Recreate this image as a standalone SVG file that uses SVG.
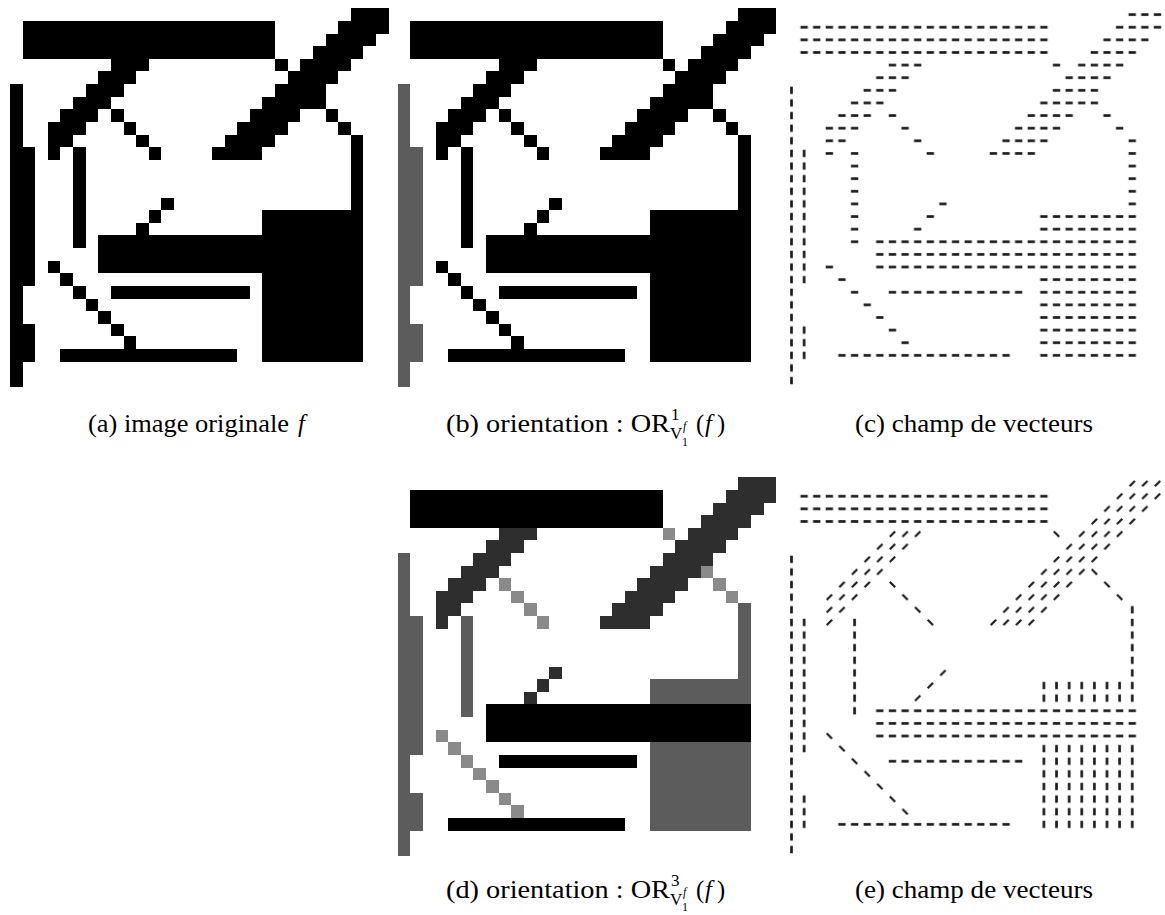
<svg xmlns="http://www.w3.org/2000/svg" xmlns:xlink="http://www.w3.org/1999/xlink" width="1165" height="915" viewBox="0 0 1165 915">
<style>
text{font-family:"Liberation Serif","Times New Roman",serif;fill:#000}
.cap{font-size:24.5px}
.scr{font-size:17px}
.scr2{font-size:12px}
.it{font-style:italic}
.solid{shape-rendering:crispEdges}
</style>
<defs>
<path id="pH" d="M1 1h20v3h-20z M7 18h21v3h-21z M8 22h11v1h-11z M4 27h14v1h-14z"/>
<path id="pVL" d="M0 6h1v24h-1z M1 11h1v11h-1z M1 25h1v3h-1z"/>
<path id="pVO" d="M5 11h1v8h-1z M27 10h1v6h-1z M20 16h8v2h-8z M20 21h8v7h-8z"/>
<path id="pD1" d="M27 0h3v1h-3z M26 1h4v1h-4z M25 2h4v1h-4z M24 3h4v1h-4z M23 4h4v1h-4z M22 5h4v1h-4z M21 6h4v1h-4z M20 7h4v1h-4z M19 8h4v1h-4z M18 9h4v1h-4z M17 10h4v1h-4z M16 11h4v1h-4z M8 4h3v1h-3z M7 5h3v1h-3z M6 6h3v1h-3z M5 7h3v1h-3z M4 8h3v1h-3z M3 9h3v1h-3z M3 10h2v1h-2z M3 11h1v1h-1z M12 15h1v1h-1z M11 16h1v1h-1z M10 17h1v1h-1z"/>
<path id="pD2" d="M21 4h1v1h-1z M24 7h1v1h-1z M25 8h1v1h-1z M26 9h1v1h-1z M8 8h1v1h-1z M9 9h1v1h-1z M10 10h1v1h-1z M11 11h1v1h-1z M3 20h1v1h-1z M4 21h1v1h-1z M5 22h1v1h-1z M6 23h1v1h-1z M7 24h1v1h-1z M8 25h1v1h-1z M9 26h1v1h-1z"/>
<pattern id="ph" width="1" height="1" patternUnits="userSpaceOnUse"><path d="M0.21 0.5H0.79" stroke="#1a1a1a" stroke-width="0.21" fill="none"/></pattern>
<pattern id="pv" width="1" height="1" patternUnits="userSpaceOnUse"><path d="M0.5 0.21V0.79" stroke="#1a1a1a" stroke-width="0.21" fill="none"/></pattern>
<pattern id="pd1" width="1" height="1" patternUnits="userSpaceOnUse"><path d="M0.29 0.71L0.71 0.29" stroke="#1a1a1a" stroke-width="0.18" fill="none"/></pattern>
<pattern id="pd2" width="1" height="1" patternUnits="userSpaceOnUse"><path d="M0.29 0.29L0.71 0.71" stroke="#1a1a1a" stroke-width="0.18" fill="none"/></pattern>
</defs>
<rect width="1165" height="915" fill="#fff"/>

<g id="panel-a" class="solid" transform="translate(10 8.3) scale(12.62)">
<use xlink:href="#pH" fill="#000"/>
<use xlink:href="#pVL" fill="#000"/>
<use xlink:href="#pVO" fill="#000"/>
<use xlink:href="#pD1" fill="#000"/>
<use xlink:href="#pD2" fill="#000"/>
</g>

<g id="panel-b" class="solid" transform="translate(397.7 8.3) scale(12.62)">
<use xlink:href="#pH" fill="#000"/>
<use xlink:href="#pVL" fill="#5c5c5c"/>
<use xlink:href="#pVO" fill="#000"/>
<use xlink:href="#pD1" fill="#000"/>
<use xlink:href="#pD2" fill="#000"/>
</g>

<g id="panel-c" transform="translate(785.2 8.3) scale(12.62)">
<use xlink:href="#pH" fill="url(#ph)"/>
<use xlink:href="#pVL" fill="url(#pv)"/>
<use xlink:href="#pVO" fill="url(#ph)"/>
<use xlink:href="#pD1" fill="url(#ph)"/>
<use xlink:href="#pD2" fill="url(#ph)"/>
</g>

<g id="panel-d" class="solid" transform="translate(397.7 477.3) scale(12.62)">
<use xlink:href="#pH" fill="#000"/>
<use xlink:href="#pVL" fill="#5c5c5c"/>
<use xlink:href="#pVO" fill="#5c5c5c"/>
<use xlink:href="#pD1" fill="#2e2e2e"/>
<use xlink:href="#pD2" fill="#8a8a8a"/>
</g>

<g id="panel-e" transform="translate(785.2 477.3) scale(12.62)">
<use xlink:href="#pH" fill="url(#ph)"/>
<use xlink:href="#pVL" fill="url(#pv)"/>
<use xlink:href="#pVO" fill="url(#pv)"/>
<use xlink:href="#pD1" fill="url(#pd1)"/>
<use xlink:href="#pD2" fill="url(#pd2)"/>
</g>

<g id="caption-a">
<text class="cap" x="88" y="432" textLength="201" lengthAdjust="spacingAndGlyphs">(a) image originale</text>
<text class="cap it" x="298" y="432">f</text>
</g>

<g id="caption-b">
<text class="cap" x="446" y="432" textLength="224" lengthAdjust="spacingAndGlyphs">(b) orientation : OR</text>
<text class="scr" x="671" y="420">1</text>
<text class="scr" x="670" y="439">V</text>
<text class="scr2 it" x="683" y="430">f</text>
<text class="scr2" x="682" y="446">1</text>
<text class="cap" x="696" y="432">(</text>
<text class="cap it" x="705" y="432">f</text>
<text class="cap" x="717" y="432">)</text>
</g>

<g id="caption-c">
<text class="cap" x="855" y="432" textLength="238" lengthAdjust="spacingAndGlyphs">(c) champ de vecteurs</text>
</g>

<g id="caption-d">
<text class="cap" x="446" y="898" textLength="224" lengthAdjust="spacingAndGlyphs">(d) orientation : OR</text>
<text class="scr" x="671" y="886">3</text>
<text class="scr" x="670" y="905">V</text>
<text class="scr2 it" x="683" y="896">f</text>
<text class="scr2" x="682" y="911">1</text>
<text class="cap" x="696" y="898">(</text>
<text class="cap it" x="705" y="898">f</text>
<text class="cap" x="717" y="898">)</text>
</g>

<g id="caption-e">
<text class="cap" x="855" y="898" textLength="238" lengthAdjust="spacingAndGlyphs">(e) champ de vecteurs</text>
</g>
</svg>
